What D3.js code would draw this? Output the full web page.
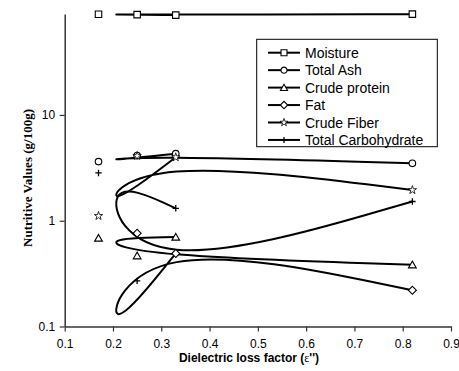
<!DOCTYPE html>
<html>
<head>
<meta charset="utf-8">
<script src="https://cdn.jsdelivr.net/npm/d3@7"></script>
<style>
  body { margin: 0; background: #fff; }
  svg { display: block; }
</style>
</head>
<body>
<svg id="chart" width="459" height="371"></svg>
<script>
// samples in the order they were entered (the spline follows this order)
var lossFactor = [0.33, 0.17, 0.25, 0.82];
var moisture = [87.9, 89.6, 88.8, 89.7];
var totalAsh = [4.3, 3.62, 4.13, 3.49];
var crudeProtein = [0.70, 0.685, 0.466, 0.383];
var fat = [0.49, 0.061, 0.76, 0.22];
var crudeFiber = [3.98, 1.11, 4.1, 1.95];
var totalCarb = [1.31, 2.83, 0.27, 1.52];

var seriesNames = ["Moisture", "Total Ash", "Crude protein", "Fat", "Crude Fiber", "Total Carbohydrate"];
var seriesValues = [moisture, totalAsh, crudeProtein, fat, crudeFiber, totalCarb];
var markerTypes = ["square", "circle", "triangle", "diamond", "star", "plus"];

var xTicks = [0.1, 0.2, 0.3, 0.4, 0.5, 0.6, 0.7, 0.8, 0.9];
var xMinor = [0.15, 0.25, 0.35, 0.45, 0.55, 0.65, 0.75, 0.85];
var yTicks = [0.1, 1, 10];
var yTickLabels = ["0.1", "1", "10"];

var svg = d3.select("#chart");

var x = d3.scaleLinear().domain([0.1, 0.9]).range([64.7, 451]);
var y = d3.scaleLog().domain([0.1, 90]).range([326.5, 14]);

var yMinor = [];
[0.1, 1, 10].forEach(function (dec) {
  for (var k = 2; k <= 9; k++) {
    var v = dec * k;
    if (v <= 90) yMinor.push(v);
  }
});

var axisColor = "#333";

// x axis
var gx = svg.append("g").attr("transform", "translate(0," + y.range()[0] + ")");
gx.call(d3.axisBottom(x).tickValues(xMinor).tickSize(3).tickSizeOuter(0).tickFormat(""));
gx.call(d3.axisBottom(x).tickValues(xTicks).tickSize(5).tickSizeOuter(0)
  .tickFormat(d3.format(".1f")));
gx.selectAll("text").attr("y", 13).attr("dy", "0.71em")
  .style("font-family", "'Liberation Sans', Arial, sans-serif").style("font-size", "12px").attr("fill", "#000");

// y axis
var gy = svg.append("g").attr("transform", "translate(" + x.range()[0] + ",0)");
gy.call(d3.axisLeft(y).tickValues(yMinor).tickSize(3).tickSizeOuter(0).tickFormat(""));
gy.call(d3.axisLeft(y).tickValues(yTicks).tickSize(5).tickSizeOuter(0)
  .tickFormat(function (d, i) { return yTickLabels[i]; }));
gy.selectAll("text").attr("x", -9.5)
  .style("font-family", "'Liberation Sans', Arial, sans-serif").style("font-size", "12px").attr("fill", "#000");

svg.selectAll(".domain").attr("stroke", axisColor).attr("stroke-width", 1.5);
svg.selectAll(".tick line").attr("stroke", axisColor).attr("stroke-width", 1.2);

// axis titles
svg.append("text")
  .attr("transform", "translate(32,178) rotate(-90)")
  .attr("text-anchor", "middle")
  .style("font-family", "'Liberation Serif', 'Times New Roman', serif")
  .style("font-weight", "bold")
  .style("font-size", "13px")
  .text("Nutritive Values (g/100g)");

var xt = svg.append("text")
  .attr("x", 249).attr("y", 362)
  .attr("text-anchor", "middle")
  .style("font-family", "'Liberation Sans', Arial, sans-serif")
  .style("font-weight", "bold")
  .style("font-size", "12px");
xt.append("tspan").text("Dielectric loss factor (");
xt.append("tspan").style("font-family", "'Liberation Serif', serif").style("font-weight", "normal").text("\u03B5");
xt.append("tspan").text("'')");

// marker shapes
function markerPath(type, k) {
  if (type == "square") return d3.symbol().type(d3.symbolSquare).size(42 * k)();
  if (type == "circle") return d3.symbol().type(d3.symbolCircle).size(34 * k)();
  if (type == "triangle") return d3.symbol().type(d3.symbolTriangle).size(26 * k)();
  if (type == "diamond") return d3.symbol().type(d3.symbolSquare).size(32 * k)();
  if (type == "star") return d3.symbol().type(d3.symbolStar).size(22 * k)();
  var h = 3.2 * Math.sqrt(k);
  return "M" + (-h) + ",0H" + h + "M0," + (-h) + "V" + h;
}

function drawMarker(g, type, px, py, k) {
  k = k || 1;
  g.append("path")
    .attr("d", markerPath(type, k))
    .attr("transform", "translate(" + px + "," + py + ")" + (type == "diamond" ? " rotate(45)" : "") +
      (type == "triangle" ? " translate(0,0.8)" : ""))
    .attr("fill", type == "plus" ? "none" : "#fff")
    .attr("stroke", "#000")
    .attr("stroke-width", type == "plus" ? 1.3 : (type == "star" ? 0.8 : 1.1));
}

// spline through the points in entry order
var line = d3.line()
  .x(function (d) { return x(d[0]); })
  .y(function (d) { return y(d[1]); })
  .curve(d3.curveBasis);

var plot = svg.append("g");

seriesValues.forEach(function (vals) {
  var pts = lossFactor.map(function (lf, i) { return [lf, vals[i]]; });
  plot.append("path")
    .attr("d", line(pts))
    .attr("fill", "none")
    .attr("stroke", "#000")
    .attr("stroke-width", 2);
});

seriesValues.forEach(function (vals, s) {
  vals.forEach(function (v, i) {
    if (v < y.domain()[0]) return;
    drawMarker(plot, markerTypes[s], x(lossFactor[i]), y(v));
  });
});

// legend
var legend = svg.append("g");
legend.append("rect")
  .attr("x", 256.7).attr("y", 39.3)
  .attr("width", 180.6).attr("height", 107.4)
  .attr("fill", "#fff")
  .attr("stroke", "#000")
  .attr("stroke-width", 1);

seriesNames.forEach(function (name, i) {
  var ly = 52.7 + i * 17.45;
  legend.append("line")
    .attr("x1", 268).attr("x2", 300)
    .attr("y1", ly).attr("y2", ly)
    .attr("stroke", "#000").attr("stroke-width", 2);
  drawMarker(legend, markerTypes[i], 284, ly, 0.85);
  legend.append("text")
    .attr("x", 305).attr("y", ly).attr("dy", "0.36em")
    .style("font-family", "'Liberation Sans', Arial, sans-serif")
    .style("font-size", "14px")
    .text(name);
});
</script>
</body>
</html>
